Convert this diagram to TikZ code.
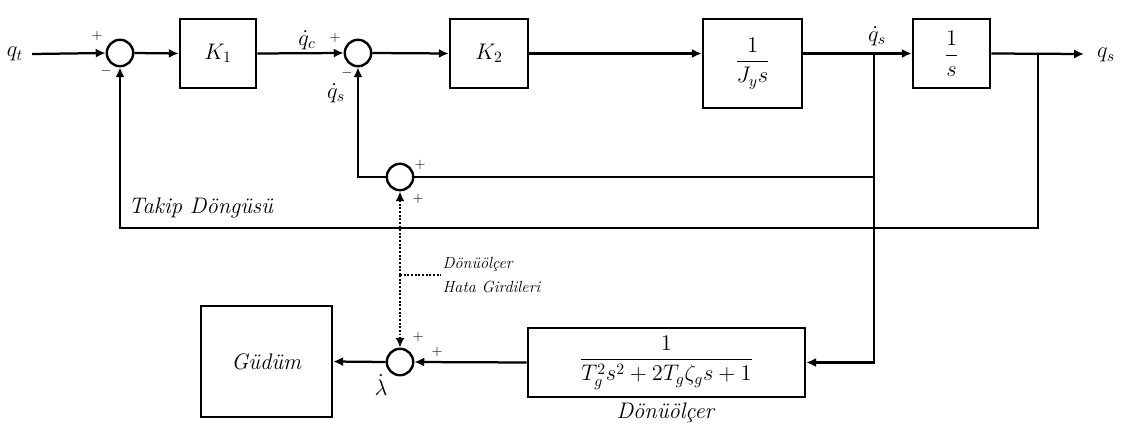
\documentclass[tikz,border=0pt]{standalone}
\usepackage{fix-cm}
\usepackage{amsmath, amssymb}
\usepackage{tikz}
\usetikzlibrary{arrows.meta, positioning, calc}

\begin{document}
\begin{tikzpicture}[
    x=0.025cm, y=-0.025cm,
    font=\fontsize{16}{19}\selectfont,
    block/.style={draw, line width=1.9pt, inner sep=0pt},
    sumnode/.style={draw, circle, line width=1.7pt, minimum size=0.66cm, inner sep=0pt},
    sig/.style={line width=1.6pt, -{Latex[length=7pt, width=6.5pt]}},
    wire/.style={line width=1.6pt},
    dotline/.style={line width=1.7pt, dash pattern=on 1.4pt off 1.2pt},
    sgn/.style={font=\normalsize, inner sep=0pt},
    lbl/.style={inner sep=0.5pt}
]
    \useasboundingbox (0,0) rectangle (1126,434);

    \node[lbl] (qt) at (15,54) {$q_t$};
    \node[sumnode] (s1) at (120,53) {};
    \node[block, minimum width=1.9cm, minimum height=1.72cm] (k1) at (218,53.5) {$K_1$};
    \node[sumnode] (s2) at (358,53) {};
    \node[block, minimum width=1.95cm, minimum height=1.72cm] (k2) at (489,53.5) {$K_2$};
    \node[block, minimum width=2.47cm, minimum height=2.22cm] (jy) at (752.5,63.5) {$\dfrac{1}{J_y s}$};
    \node[block, minimum width=1.92cm, minimum height=1.72cm] (is) at (951.5,53.5) {$\dfrac{1}{s}$};
    \node[lbl] (qs) at (1106,55) {$q_s$};

    \node[sumnode] (ss) at (400,177) {};
    \node[sumnode] (ls) at (400,362) {};
    \node[block, minimum width=3.27cm, minimum height=2.77cm] (gd) at (266.5,361.5) {\textit{Güdüm}};
    \node[block, minimum width=6.92cm, minimum height=1.72cm] (gy) at (666.5,362.5) {$\dfrac{1}{T_g^2 s^2 + 2T_g\zeta_g s + 1}$};
    \node[lbl] (gylbl) at (666,413) {\textit{Dönüölçer}};
    \node[lbl] (tk) at (201,208) {\textit{Takip Döngüsü}};
    \node[anchor=west, align=left, font=\fontsize{11.5}{17.5}\selectfont, inner sep=1pt] (hg) at (441,275) {\textit{Dönüölçer}\\\textit{Hata Girdileri}};

    \coordinate (b1) at (874,54);
    \coordinate (b2) at (1038,54);
    \coordinate (qend) at (1084,54);
    \coordinate (fb) at (1038,228);
    \coordinate (dn) at (400,275);

    \draw[sig] (qt.east) ++(8,0) -- (s1.west);
    \draw[sig] (s1.east) -- (k1.west);
    \draw[sig] (k1.east) -- (s2.west);
    \draw[sig] (s2.east) -- (k2.west);
    \draw[sig] (k2.east) -- (k2.east -| jy.west);
    \draw[sig] (jy.east |- is.west) -- (is.west);
    \draw[sig] (is.east) -- (qend);
    \draw[sig] (b2) -- (fb) -| (s1.south);
    \draw[sig] (b1) |- (gy.east);
    \draw[wire] (b1 |- ss.east) -- (ss.east);
    \draw[sig] (ss.west) -| (s2.south);
    \draw[sig] (gy.west) -- (ls.east);
    \draw[sig] (ls.west) -- (gd.east);
    \draw[dotline, -{Latex[length=7pt, width=6.5pt]}] (dn) -- (ss.south);
    \draw[dotline, -{Latex[length=7pt, width=6.5pt]}] (dn) -- (ls.north);
    \draw[dotline] (dn) -- (hg.west);

    \node[sgn] at (97,36) {$+$};
    \node[sgn] at (106,71) {$-$};
    \node[lbl] (qc) at (307,40) {$\dot{q}_c$};
    \node[sgn] at (335,38) {$+$};
    \node[sgn] at (347,73) {$-$};
    \node[lbl] (qs2) at (336,93) {$\dot{q}_s$};
    \node[lbl] (qs1) at (877,36) {$\dot{q}_s$};
    \node[sgn] at (420,165) {$+$};
    \node[sgn] at (418,199) {$+$};
    \node[sgn] at (418,337) {$+$};
    \node[sgn] at (437,352) {$+$};
    \node[lbl] (lam) at (381,385) {$\dot{\lambda}$};
\end{tikzpicture}
\end{document}
